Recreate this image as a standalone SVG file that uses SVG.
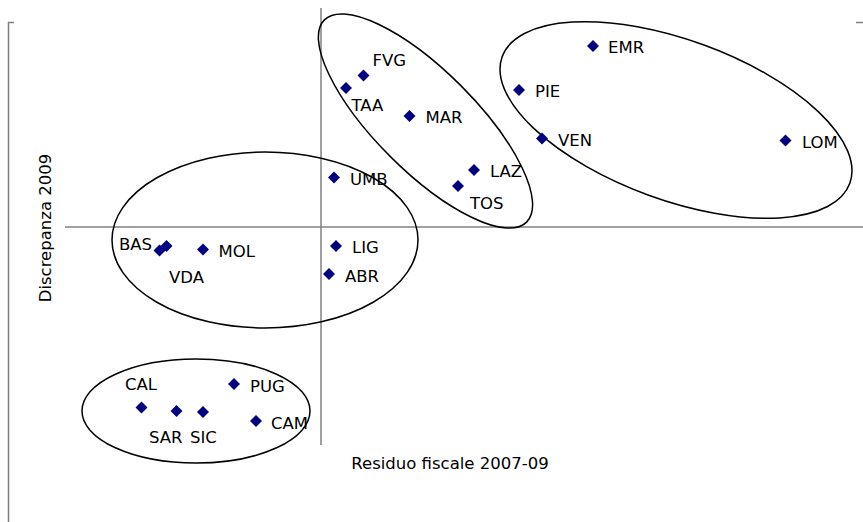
<svg xmlns="http://www.w3.org/2000/svg" width="863" height="522" viewBox="0 0 863 522">
<defs>
<style>
.frame{fill:none;stroke:#7f7f7f;stroke-width:1.5}
.axis{fill:none;stroke:#808080;stroke-width:1.5}
.grp{fill:none;stroke:#000;stroke-width:1.5}
.pt{fill:#000080}
text{font-family:"DejaVu Sans",Verdana,sans-serif;font-size:16.5px;fill:#000}
</style>
<path id="d" d="M0,-6 L6,0 L0,6 L-6,0 Z"/>
</defs>
<rect width="863" height="522" fill="#fff"/>
<path class="frame" d="M14,22.5 H8.5 V522 M856,22.5 H863"/>
<g id="axes">
<line class="axis" x1="321" y1="8" x2="321" y2="445"/>
<line class="axis" x1="65" y1="227" x2="863" y2="227"/>
<text x="450" y="469" text-anchor="middle">Residuo fiscale 2007-09</text>
<text transform="translate(51,228) rotate(-90)" text-anchor="middle">Discrepanza 2009</text>
</g>
<g id="connectors">
<ellipse id="grp-north" class="grp" cx="676" cy="120" rx="185" ry="80" transform="rotate(20 676 120)"/>
<ellipse id="grp-centre" class="grp" cx="425.5" cy="121" rx="143" ry="50" transform="rotate(45 425.5 121)"/>
<ellipse id="grp-mid" class="grp" cx="265" cy="240" rx="153" ry="88"/>
<ellipse id="grp-south" class="grp" cx="196" cy="411" rx="114" ry="52"/>
</g>
<g id="EMR"><use href="#d" class="pt" x="593" y="46"/><text x="608" y="53">EMR</text></g>
<g id="PIE"><use href="#d" class="pt" x="519" y="90"/><text x="535" y="97">PIE</text></g>
<g id="VEN"><use href="#d" class="pt" x="542" y="138.5"/><text x="558" y="145.5">VEN</text></g>
<g id="LOM"><use href="#d" class="pt" x="785.5" y="140.5"/><text x="802" y="147.5">LOM</text></g>
<g id="FVG"><use href="#d" class="pt" x="363.5" y="75.5"/><text x="372.5" y="66">FVG</text></g>
<g id="TAA"><use href="#d" class="pt" x="346" y="88"/><text x="351.5" y="111">TAA</text></g>
<g id="MAR"><use href="#d" class="pt" x="409.5" y="116"/><text x="425.5" y="123">MAR</text></g>
<g id="LAZ"><use href="#d" class="pt" x="474" y="170"/><text x="490" y="177">LAZ</text></g>
<g id="TOS"><use href="#d" class="pt" x="458" y="186"/><text x="470" y="209">TOS</text></g>
<g id="UMB"><use href="#d" class="pt" x="334" y="177.5"/><text x="350" y="185">UMB</text></g>
<g id="LIG"><use href="#d" class="pt" x="336" y="246"/><text x="352" y="253">LIG</text></g>
<g id="ABR"><use href="#d" class="pt" x="329" y="274"/><text x="345" y="281.5">ABR</text></g>
<g id="VDA"><use href="#d" class="pt" x="159.5" y="250.5"/><text x="169" y="283">VDA</text></g>
<g id="BAS"><use href="#d" class="pt" x="166.5" y="246"/><text x="119" y="250">BAS</text></g>
<g id="MOL"><use href="#d" class="pt" x="203" y="249.5"/><text x="218.5" y="256.5">MOL</text></g>
<g id="CAL"><use href="#d" class="pt" x="141.5" y="407.5"/><text x="125" y="390">CAL</text></g>
<g id="SAR"><use href="#d" class="pt" x="176.5" y="411"/><text x="149" y="442.5">SAR</text></g>
<g id="SIC"><use href="#d" class="pt" x="203" y="412"/><text x="190" y="442.5">SIC</text></g>
<g id="PUG"><use href="#d" class="pt" x="234" y="384"/><text x="250" y="392">PUG</text></g>
<g id="CAM"><use href="#d" class="pt" x="256" y="421"/><text x="271" y="429">CAM</text></g>
</svg>
